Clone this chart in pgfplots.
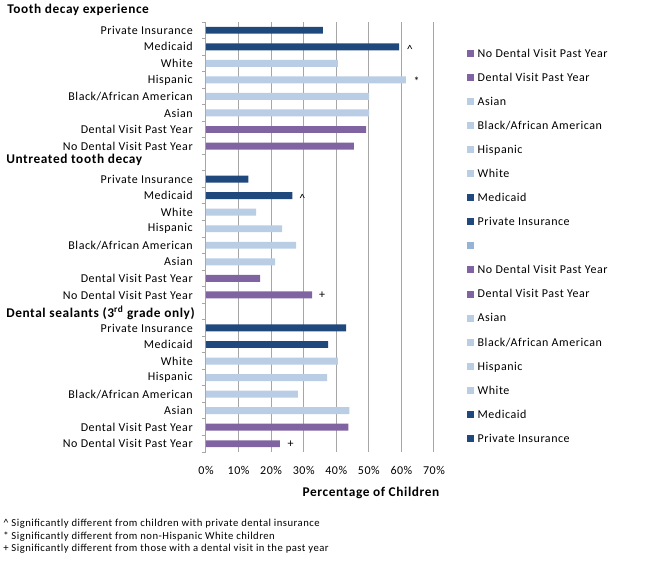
\documentclass[border=0pt]{standalone}
\usepackage{pgfplots}
\pgfplotsset{compat=1.18}
\usepackage{fontspec}
\setmainfont{Carlito}[LetterSpace=4.5]
\definecolor{dkblue}{HTML}{1F497D}
\definecolor{ltblue}{HTML}{B9CDE5}
\definecolor{purp}{HTML}{8064A2}
\definecolor{midblue}{HTML}{95B3D7}
\definecolor{gridgray}{HTML}{A6A6A6}
\begin{document}
\begin{tikzpicture}
\useasboundingbox (0,0) rectangle (487.5pt,421.5pt);
\begin{axis}[
  at={(154.5pt,82.5pt)}, anchor=south west,
  scale only axis, width=171pt, height=322.5pt,
  xmin=0, xmax=70, ymin=-0.5, ymax=25.5,
  axis y line*=left, axis x line*=bottom,
  x axis line style={draw=none},
  y axis line style={draw=gridgray, line width=0.75pt},
  xtick={0,10,20,30,40,50,60,70},
  xticklabels={0\%,10\%,20\%,30\%,40\%,50\%,60\%,70\%},
  xmajorgrids, major grid style={draw=gridgray, line width=0.75pt},
  ytick={0,1,2,3,4,5,6,7,9,10,11,12,13,14,15,16,18,19,20,21,22,23,24,25},
  yticklabels={No Dental Visit Past Year,Dental Visit Past Year,Asian,Black/African American,Hispanic,White,Medicaid,Private Insurance,
    No Dental Visit Past Year,Dental Visit Past Year,Asian,Black/African American,Hispanic,White,Medicaid,Private Insurance,
    No Dental Visit Past Year,Dental Visit Past Year,Asian,Black/African American,Hispanic,White,Medicaid,Private Insurance},
  minor ytick={-0.5,0.5,...,25.5},
  tick align=outside, major tick length=0pt, minor tick length=3pt,
  minor tick style={draw=gridgray, line width=0.75pt},
  tick label style={font=\fontsize{9}{11}\selectfont, inner sep=0pt},
  yticklabel style={anchor=east, xshift=-9.75pt},
  xticklabel style={anchor=center, yshift=-13.5pt},
  xlabel={Percentage of Children},
  xlabel style={at={(axis description cs:0.7237,-0.0953)}, anchor=center, font=\bfseries\fontsize{10}{12}\selectfont},
  legend cell align=left,
  legend image code/.code={\path[#1, draw=none] (0pt,0.3pt) rectangle (5.25pt,5.55pt);},
  legend style={at={(axis description cs:1.1433,0.946)}, anchor=north west, draw=none, fill=none,
    inner sep=0pt, outer sep=0pt, row sep=0pt, column sep=3pt,
    font=\fontsize{9}{11}\selectfont,
    nodes={inner sep=0pt, text height=9pt, text depth=9.05pt}},
]
% dark blue: Private Insurance, Medicaid
\addplot[xbar, bar width=5.2pt, bar shift=0pt, fill=dkblue, draw=none, forget plot]
  coordinates {(35.9,25) (59.3,24) (13.0,16) (26.5,15) (43.0,7) (37.5,6)};
% light blue: White, Hispanic, Black, Asian
\addplot[xbar, bar width=5.2pt, bar shift=0pt, fill=ltblue, draw=none, forget plot]
  coordinates {(40.5,23) (61.4,22) (50.1,21) (50.1,20)
               (15.4,14) (23.4,13) (27.7,12) (21.2,11)
               (40.5,5) (37.2,4) (28.2,3) (44.0,2)};
% purple: Dental visit, No dental visit
\addplot[xbar, bar width=5.2pt, bar shift=0pt, fill=purp, draw=none, forget plot]
  coordinates {(49.2,19) (45.4,18) (16.6,10) (32.6,9) (43.7,1) (22.7,0)};

\node[anchor=base, font=\fontsize{9}{11}\selectfont, inner sep=0pt, xshift=8pt, yshift=-5pt] at (axis cs:59.3,24) {\textasciicircum};
\node[anchor=base, font=\fontsize{9}{11}\selectfont, inner sep=0pt, xshift=8pt, yshift=-4.5pt] at (axis cs:61.4,22) {*};
\node[anchor=base, font=\fontsize{9}{11}\selectfont, inner sep=0pt, xshift=7.5pt, yshift=-5pt] at (axis cs:26.5,15) {\textasciicircum};
\node[anchor=base, font=\fontsize{9}{11}\selectfont, inner sep=0pt, xshift=7.5pt, yshift=-3pt] at (axis cs:32.6,9) {+};
\node[anchor=base, font=\fontsize{9}{11}\selectfont, inner sep=0pt, xshift=8pt, yshift=-3pt] at (axis cs:22.7,0) {+};

\addlegendimage{fill=purp}\addlegendentry{No Dental Visit Past Year}
\addlegendimage{fill=purp}\addlegendentry{Dental Visit Past Year}
\addlegendimage{fill=ltblue}\addlegendentry{Asian}
\addlegendimage{fill=ltblue}\addlegendentry{Black/African American}
\addlegendimage{fill=ltblue}\addlegendentry{Hispanic}
\addlegendimage{fill=ltblue}\addlegendentry{White}
\addlegendimage{fill=dkblue}\addlegendentry{Medicaid}
\addlegendimage{fill=dkblue}\addlegendentry{Private Insurance}
\addlegendimage{fill=midblue}\addlegendentry{}
\addlegendimage{fill=purp}\addlegendentry{No Dental Visit Past Year}
\addlegendimage{fill=purp}\addlegendentry{Dental Visit Past Year}
\addlegendimage{fill=ltblue}\addlegendentry{Asian}
\addlegendimage{fill=ltblue}\addlegendentry{Black/African American}
\addlegendimage{fill=ltblue}\addlegendentry{Hispanic}
\addlegendimage{fill=ltblue}\addlegendentry{White}
\addlegendimage{fill=dkblue}\addlegendentry{Medicaid}
\addlegendimage{fill=dkblue}\addlegendentry{Private Insurance}
\end{axis}
\node[anchor=west, inner sep=0pt, font=\bfseries\fontsize{10}{12}\selectfont] at (5.25pt,414pt) {Tooth decay experience};
\node[anchor=west, inner sep=0pt, font=\bfseries\fontsize{10}{12}\selectfont] at (4.5pt,301.5pt) {Untreated tooth decay};
\node[anchor=west, inner sep=0pt, font=\bfseries\fontsize{10}{12}\selectfont] at (4.5pt,186.75pt) {Dental sealants (3\textsuperscript{rd} grade only)};
\node[anchor=west, inner sep=0pt, font=\fontsize{8}{10}\selectfont] at (2.25pt,28.5pt) {\textasciicircum\ Significantly different from children with private dental insurance};
\node[anchor=west, inner sep=0pt, font=\fontsize{8}{10}\selectfont] at (2.25pt,19pt) {* Significantly different from non-Hispanic White children};
\node[anchor=west, inner sep=0pt, font=\fontsize{8}{10}\selectfont] at (2.25pt,10.25pt) {+ Significantly different from those with a dental visit in the past year};
\end{tikzpicture}
\end{document}
